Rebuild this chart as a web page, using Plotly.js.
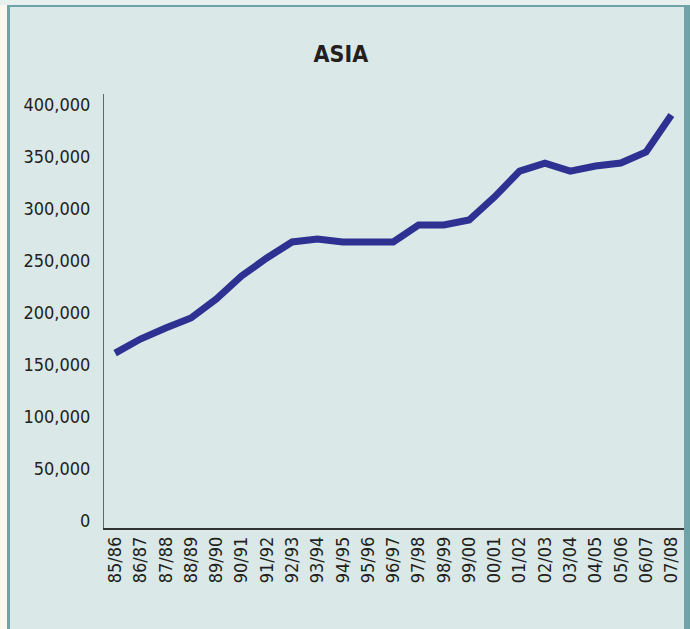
<!DOCTYPE html>
<html>
<head>
<meta charset="utf-8">
<script src="https://cdn.plot.ly/plotly-3.0.1.min.js"></script>
<style>
  html, body { margin: 0; padding: 0; width: 690px; height: 629px; overflow: hidden; background: #fbf9ee; }
  #topstrip { position: absolute; left: 0; top: 0; width: 690px; height: 5px; background: #e8efef; }
  #frame { position: absolute; left: 7px; top: 5px; height: 640px; background: #dae8e8;
           border-top: 2px solid #6ea4a7; border-left: 3px solid #6ea4a7; border-right: 6px solid #6ea4a7; box-sizing: border-box; width: 683px; }
  #chart { position: absolute; left: 0; top: 0; width: 690px; height: 629px; }
</style>
</head>
<body>
<div id="topstrip"></div>
<div id="frame"></div>
<div id="chart"></div>
<script>
const years = ['85/86','86/87','87/88','88/89','89/90','90/91','91/92','92/93','93/94','94/95','95/96','96/97','97/98','98/99','99/00','00/01','01/02','02/03','03/04','04/05','05/06','06/07','07/08'];
const asia = [161500,175000,185600,195200,213500,235600,252900,268300,271200,268300,268300,268300,284600,284600,289400,311500,336500,344200,336500,341300,344200,354800,390400];
const yTicks = [0,50000,100000,150000,200000,250000,300000,350000,400000];
const chartTitle = 'ASIA';

const fontFam = '"Liberation Sans Narrow", "Arial Narrow", "DejaVu Sans Condensed", sans-serif';

const trace = {
  x: years,
  y: asia,
  type: 'scatter',
  mode: 'lines',
  line: { color: '#2e3192', width: 7 },
  hoverinfo: 'skip'
};

const layout = {
  width: 690,
  height: 629,
  margin: { l: 104, r: 6, t: 94, b: 101, pad: 0 },
  paper_bgcolor: 'rgba(0,0,0,0)',
  plot_bgcolor: 'rgba(0,0,0,0)',
  showlegend: false,
  title: {
    text: '<b>' + chartTitle + '</b>',
    font: { family: fontFam, size: 23, color: '#231f20' },
    xref: 'container', x: 0.494, xanchor: 'center',
    yref: 'container', y: 1 - 54/629, yanchor: 'middle'
  },
  xaxis: {
    type: 'category',
    categoryorder: 'array',
    categoryarray: years,
    range: [-0.44, 22.5],
    tickangle: -90,
    showline: true, linecolor: '#333333', linewidth: 1.5,
    showgrid: false, zeroline: false,
    ticks: '',
    tickfont: { family: fontFam, size: 18, color: '#231f20' },
    fixedrange: true
  },
  yaxis: {
    range: [-6700, 410600],
    tickvals: yTicks,
    tickformat: ',d',
    showline: true, linecolor: '#666666', linewidth: 1,
    showgrid: false, zeroline: false,
    ticks: 'outside', ticklen: 9, tickcolor: 'rgba(0,0,0,0)',
    tickfont: { family: fontFam, size: 18, color: '#231f20' },
    fixedrange: true
  }
};

Plotly.newPlot('chart', [trace], layout, { displayModeBar: false, staticPlot: true });
</script>
</body>
</html>
